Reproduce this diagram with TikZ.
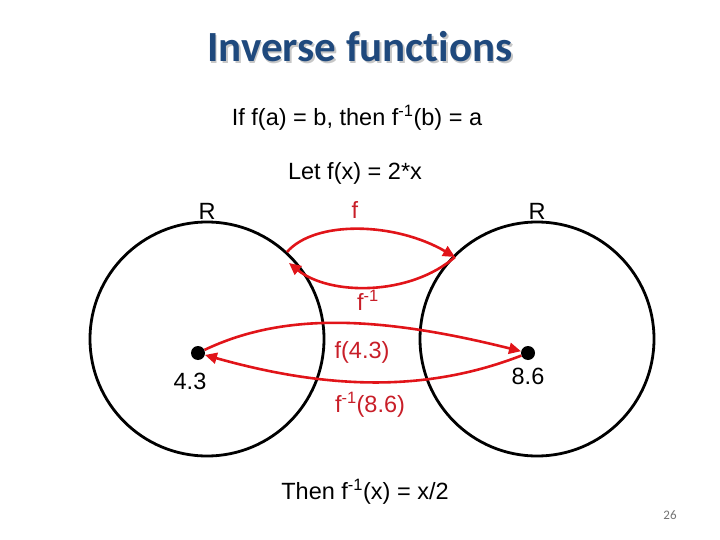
\documentclass[tikz,border=0pt]{standalone}
\usepackage{fontspec}
\setmainfont{Liberation Sans}
\newfontfamily\titlefont[Ligatures=NoCommon]{Carlito}
\usetikzlibrary{arrows.meta}
\definecolor{titleblue}{RGB}{31,73,125}
\definecolor{arrred}{RGB}{225,20,25}
\definecolor{labred}{RGB}{200,30,40}
\tikzset{
  ring/.style={draw=black, line width=2.8pt},
  mapline/.style={draw=arrred, line width=2.6pt},
  maparrow/.style={mapline, -{Triangle[length=12pt,width=11pt]}},
  txt/.style={font=\fontsize{23.5}{28}\selectfont, inner sep=0pt},
  redtxt/.style={txt, text=labred},
  dot/.style={circle, fill=black, inner sep=0pt, minimum size=14pt}
}
\begin{document}
\begin{tikzpicture}[x=1pt,y=-1pt]
\useasboundingbox (0,0) rectangle (720,540);
% title
\node[font=\titlefont\bfseries\fontsize{43}{50}\selectfont, text=black!22] at (361.5,48.5) {Inverse functions};
\node (title) [font=\titlefont\bfseries\fontsize{43}{50}\selectfont, text=titleblue] at (360,47) {Inverse functions};
\node (l1) [txt] at (357,118) {If f(a) = b, then f\textsuperscript{-1}(b) = a};
\node (l2) [txt] at (355,173) {Let f(x) = 2*x};
% circles
\draw[ring] (207,339) circle (117);
\draw[ring] (537,339) circle (117);
\node (R1) [txt] at (207,211) {R};
\node (R2) [txt] at (537,211) {R};
% dots
\node (a) [dot] at (198,353) {};
\node (b) [dot] at (528,353) {};
\node (la) [txt] at (190,381) {4.3};
\node (lb) [txt] at (528,376) {8.6};
% end points on circles
\coordinate (p1) at (287,252);
\coordinate (p2) at (455,257);
\coordinate (p3) at (289,263);
% f arrows
\draw[maparrow] (p1) .. controls (315,220) and (395,222) .. (p2);
\draw[maparrow] (p2) .. controls (410,296) and (330,296) .. (p3);
\draw[maparrow] (a) .. controls (280,314) and (372,314) .. (b);
\draw[maparrow] (b) .. controls (430,391) and (333,391) .. (a);
% labels
\node (f) [redtxt] at (355,210) {f};
\node (finv) [redtxt] at (368,300) {f\textsuperscript{-1}};
\node (f43) [redtxt] at (362,352) {f(4.3)};
\node (finv86) [redtxt] at (370,405) {f\textsuperscript{-1}(8.6)};
\node (l3) [txt] at (365,492) {Then f\textsuperscript{-1}(x) = x/2};
\node (pg) [font=\titlefont\fontsize{13}{15}\selectfont, text=black!55, inner sep=0pt] at (670,515) {26};
\end{tikzpicture}
\end{document}
